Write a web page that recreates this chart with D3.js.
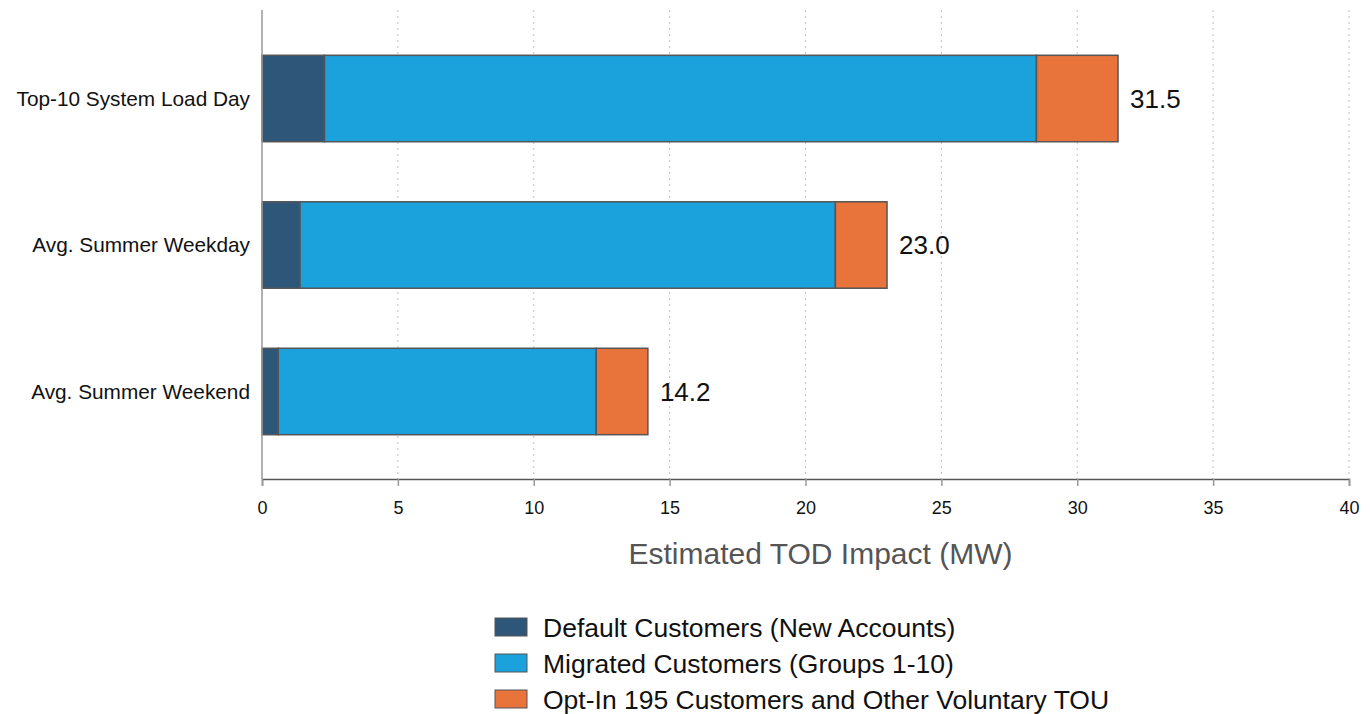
<!DOCTYPE html>
<html>
<head>
<meta charset="utf-8">
<script src="https://cdn.jsdelivr.net/npm/d3@7"></script>
<style>
  html, body { margin: 0; padding: 0; background: #fff; }
  svg { display: block; font-family: Arial, "Liberation Sans", sans-serif; }
</style>
</head>
<body>
<svg id="chart" width="1370" height="714"></svg>
<script>
// Categories and stacked series values (MW)
const categories = ["Top-10 System Load Day", "Avg. Summer Weekday", "Avg. Summer Weekend"];
const seriesNames = [
  "Default Customers (New Accounts)",
  "Migrated Customers (Groups 1-10)",
  "Opt-In 195 Customers and Other Voluntary TOU"
];
const defaultCustomers = [2.3, 1.4, 0.6];
const migratedCustomers = [26.2, 19.7, 11.7];
const optInCustomers = [3.0, 1.9, 1.9];
const totals = [31.5, 23.0, 14.2];
const xTicks = [0, 5, 10, 15, 20, 25, 30, 35, 40];
const colors = ["#2e5679", "#1ba1db", "#e8743c"];

const svg = d3.select("#chart");
const margin = { left: 262, right: 21, top: 10, bottom: 235 };
const W = 1370, H = 714;
const plotW = W - margin.left - margin.right;
const plotH = H - margin.top - margin.bottom; // axis at y = 479

const x = d3.scaleLinear().domain([0, 40]).range([margin.left, margin.left + plotW]);
const y = d3.scaleBand().domain(categories)
  .range([margin.top + 16, margin.top + plotH - 15])
  .paddingInner(0.41).paddingOuter(0.2);

// gridlines
svg.append("g").selectAll("line").data(xTicks.filter(d => d > 0)).join("line")
  .attr("x1", d => x(d)).attr("x2", d => x(d))
  .attr("y1", margin.top).attr("y2", margin.top + plotH)
  .attr("stroke", "#c8c8c8").attr("stroke-width", 1.2)
  .attr("stroke-dasharray", "2,4");

// stacked data
const rows = categories.map((c, i) => ({
  cat: c, a: defaultCustomers[i], b: migratedCustomers[i], c: optInCustomers[i], total: totals[i]
}));
const stack = d3.stack().keys(["a", "b", "c"])(rows);

svg.append("g").selectAll("g").data(stack).join("g")
  .attr("fill", (d, i) => colors[i])
  .selectAll("rect").data(d => d).join("rect")
  .attr("x", d => x(d[0]))
  .attr("width", d => x(d[1]) - x(d[0]))
  .attr("y", d => y(d.data.cat))
  .attr("height", y.bandwidth())
  .attr("stroke", "#555").attr("stroke-width", 1.5);

// total labels
svg.append("g").selectAll("text").data(rows).join("text")
  .attr("x", d => x(d.total) + 12)
  .attr("y", d => y(d.cat) + y.bandwidth() / 2)
  .attr("dy", "0.36em")
  .attr("font-size", 26).attr("fill", "#111")
  .text(d => d.total.toFixed(1));

// y axis line
svg.append("line")
  .attr("x1", x(0)).attr("x2", x(0))
  .attr("y1", margin.top).attr("y2", margin.top + plotH)
  .attr("stroke", "#999").attr("stroke-width", 1.5);

// category labels
svg.append("g").selectAll("text").data(categories).join("text")
  .attr("x", margin.left - 12)
  .attr("y", d => y(d) + y.bandwidth() / 2)
  .attr("dy", "0.36em")
  .attr("text-anchor", "end")
  .attr("font-size", 20.8).attr("fill", "#111")
  .text(d => d);

// x axis
const xAxis = svg.append("g")
  .attr("transform", `translate(0,${margin.top + plotH})`)
  .call(d3.axisBottom(x).tickValues(xTicks).tickSize(7).tickPadding(15).tickSizeOuter(7));
xAxis.select(".domain").attr("stroke", "#555").attr("stroke-width", 1.5);
xAxis.selectAll(".tick line").attr("stroke", "#999").attr("stroke-width", 1.5);
xAxis.selectAll(".tick text").attr("font-size", 18).attr("fill", "#111")
  .attr("font-family", "Arial, 'Liberation Sans', sans-serif");

// axis title
svg.append("text")
  .attr("x", (x(0) + x(40)) / 2 + 15)
  .attr("y", 564)
  .attr("text-anchor", "middle")
  .attr("font-size", 30).attr("fill", "#555")
  .text("Estimated TOD Impact (MW)");

// legend
const lg = svg.append("g").attr("transform", "translate(495,627)");
seriesNames.forEach((name, i) => {
  const g = lg.append("g").attr("transform", `translate(0,${i * 36})`);
  g.append("rect").attr("x", 0).attr("y", -9).attr("width", 32).attr("height", 18)
    .attr("fill", colors[i]).attr("stroke", "#555").attr("stroke-width", 1);
  g.append("text").attr("x", 48).attr("y", 0).attr("dy", "0.36em")
    .attr("font-size", 26.5).attr("fill", "#111").text(name);
});
</script>
</body>
</html>
